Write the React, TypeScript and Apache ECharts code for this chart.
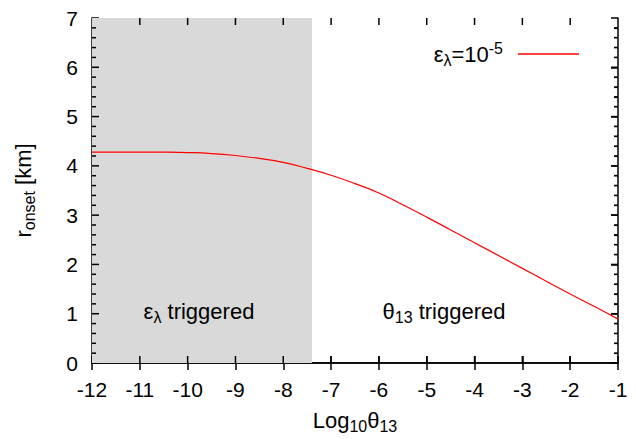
import React, { useEffect, useRef } from "react";
import * as echarts from "echarts";

const logTheta = [-12, -11.5, -11, -10.5, -10, -9.5, -9, -8.5, -8, -7.5, -7, -6.5, -6, -5.5, -5, -4.5, -4, -3.5, -3, -2.5, -2, -1.5, -1];
const rOnset = [4.28, 4.28, 4.28, 4.278, 4.27, 4.25, 4.21, 4.15, 4.07, 3.95, 3.81, 3.64, 3.45, 3.21, 2.96, 2.70, 2.44, 2.18, 1.92, 1.66, 1.40, 1.15, 0.89];
const xMin = -12;
const xMax = -1;
const yMin = 0;
const yMax = 7;
const boundary = -7.4;
const seriesName = "eps";
const xMajorTicks = [-11, -10, -9, -8, -7, -6, -5, -4, -3, -2];
const yMajorTicks = [1, 2, 3, 4, 5, 6];
const yMinorTicks = [0.2, 0.4, 0.6, 0.8, 1.2, 1.4, 1.6, 1.8, 2.2, 2.4, 2.6, 2.8, 3.2, 3.4, 3.6, 3.8, 4.2, 4.4, 4.6, 4.8, 5.2, 5.4, 5.6, 5.8, 6.2, 6.4, 6.6, 6.8];

const FONT = "Liberation Sans, Arial, sans-serif";

export default function App() {
  const ref = useRef<HTMLDivElement>(null);
  useEffect(() => {
    if (!ref.current) return;
    const chart = echarts.init(ref.current, undefined, { renderer: "svg" });
    const main = { fontSize: 22, fontFamily: FONT, color: "#000", lineHeight: 28, verticalAlign: "middle" };
    const sub = { fontSize: 16, fontFamily: FONT, color: "#000", lineHeight: 28, verticalAlign: "bottom" };
    const sup = { fontSize: 16, fontFamily: FONT, color: "#000", lineHeight: 28, verticalAlign: "top" };
    const rich = { a: main, s: sub, p: sup };
    const mkLine = () => ({ show: true, lineStyle: { color: "#000", width: 1.5 } });
    const mkTick = () => ({ show: true, inside: true, length: 7, lineStyle: { color: "#000", width: 1.5 } });
    const mkMinor = () => ({ show: true, splitNumber: 5, length: 4, lineStyle: { color: "#000", width: 1.2 } });
    const tickLabel = { fontSize: 21, fontFamily: FONT, color: "#000" };

    const tickData: number[][] = [
      ...xMajorTicks.map((v) => [v, 0]),
      ...yMajorTicks.map((v) => [v, 1]),
      ...yMinorTicks.map((v) => [v, 2]),
    ];

    const renderTick = (params: any, api: any) => {
      const v = api.value(0);
      const kind = api.value(1);
      const style = { stroke: "#000", lineWidth: 1.5 };
      if (kind === 0) {
        const b = api.coord([v, yMin]);
        const t = api.coord([v, yMax]);
        return {
          type: "group",
          children: [
            { type: "line", shape: { x1: b[0], y1: b[1], x2: b[0], y2: b[1] - 7 }, style },
            { type: "line", shape: { x1: t[0], y1: t[1], x2: t[0], y2: t[1] + 7 }, style },
          ],
        };
      }
      const len = kind === 1 ? 7 : 4;
      const l = api.coord([xMin, v]);
      const r = api.coord([xMax, v]);
      return {
        type: "group",
        children: [
          { type: "line", shape: { x1: l[0], y1: l[1], x2: l[0] + len, y2: l[1] }, style },
          { type: "line", shape: { x1: r[0], y1: r[1], x2: r[0] - len, y2: r[1] }, style },
        ],
      };
    };

    chart.setOption({
      animation: false,
      grid: { left: 92, right: 18, top: 18, bottom: 75 },
      legend: {
        data: [seriesName],
        right: 57,
        top: 40,
        padding: 0,
        align: "right",
        icon: "rect",
        itemWidth: 61,
        itemHeight: 1.5,
        formatter: () => "{a|ε}{s|λ}{a|=10}{p|-5}",
        textStyle: { rich, padding: [0, 10, 0, 0] },
      },
      xAxis: [
        {
          type: "value",
          min: xMin,
          max: xMax,
          interval: 1,
          position: "bottom",
          axisLine: mkLine(),
          axisTick: mkTick(),
          axisLabel: { ...tickLabel, margin: 16 },
          splitLine: { show: false },
          name: "{a|Log}{s|10}{a|θ}{s|13}",
          nameLocation: "middle",
          nameGap: 43,
          nameTextStyle: { rich },
        },
        {
          type: "value",
          min: xMin,
          max: xMax,
          interval: 1,
          position: "top",
          axisLine: mkLine(),
          axisTick: mkTick(),
          axisLabel: { show: false },
          splitLine: { show: false },
        },
      ],
      yAxis: [
        {
          type: "value",
          min: yMin,
          max: yMax,
          interval: 1,
          position: "left",
          axisLine: mkLine(),
          axisTick: mkTick(),
          minorTick: mkMinor(),
          axisLabel: { ...tickLabel, margin: 14 },
          splitLine: { show: false },
          minorSplitLine: { show: false },
          name: "{a|r}{s|onset}{a| [km]}",
          nameLocation: "middle",
          nameGap: 55,
          nameTextStyle: { rich },
        },
        {
          type: "value",
          min: yMin,
          max: yMax,
          interval: 1,
          position: "right",
          axisLine: mkLine(),
          axisTick: mkTick(),
          minorTick: mkMinor(),
          axisLabel: { show: false },
          splitLine: { show: false },
          minorSplitLine: { show: false },
        },
      ],
      series: [
        {
          name: seriesName,
          type: "line",
          xAxisIndex: 0,
          yAxisIndex: 0,
          data: logTheta.map((x, i) => [x, rOnset[i]]),
          smooth: true,
          symbol: "none",
          color: "#ff0000",
          lineStyle: { color: "#ff0000", width: 1.2 },
          z: 2,
          markArea: {
            silent: true,
            data: [
              [
                {
                  xAxis: xMin,
                  itemStyle: { color: "#d9d9d9" },
                  label: {
                    show: true,
                    position: "insideBottom",
                    distance: 38,
                    offset: [-3, 0],
                    formatter: "{a|ε}{s|λ}{a| triggered}",
                    rich,
                  },
                },
                { xAxis: boundary },
              ],
              [
                {
                  xAxis: boundary,
                  itemStyle: { color: "rgba(0,0,0,0)" },
                  label: {
                    show: true,
                    position: "insideBottom",
                    distance: 38,
                    offset: [-21, 0],
                    formatter: "{a|θ}{s|13}{a| triggered}",
                    rich,
                  },
                },
                { xAxis: xMax },
              ],
            ],
          },
        },
        {
          name: "ticks",
          type: "custom",
          xAxisIndex: 0,
          yAxisIndex: 0,
          silent: true,
          clip: false,
          z: 20,
          encode: { x: 0, y: 1 },
          data: tickData,
          renderItem: renderTick,
        },
      ],
    });
    return () => chart.dispose();
  }, []);
  return <div ref={ref} style={{ position: "absolute", left: 0, top: 0, width: 636, height: 439 }} />;
}
